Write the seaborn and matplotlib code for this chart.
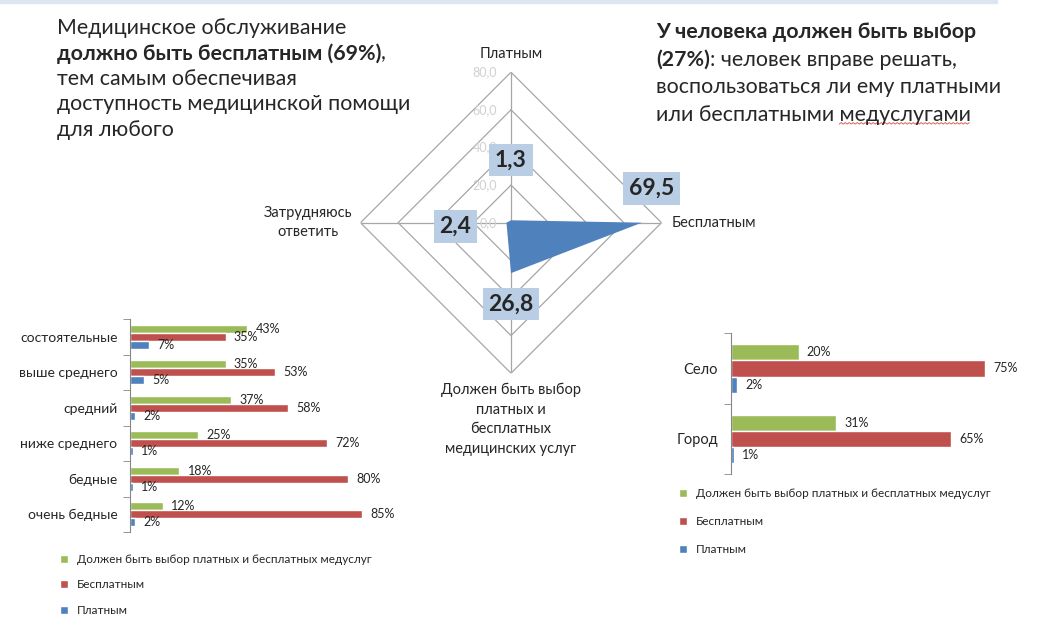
import matplotlib
matplotlib.use("Agg")
import numpy as np
import pandas as pd
import matplotlib.pyplot as plt
import seaborn as sns
from matplotlib.patches import Rectangle
from matplotlib.lines import Line2D

# radar data
radar_axes = ["Платным", "Бесплатным", "Должен быть выбор\nплатных и\nбесплатных\nмедицинских услуг", "Затрудняюсь\nответить"]
radar_values = [1.3, 69.5, 26.8, 2.4]
radar_labels = ["1,3", "69,5", "26,8", "2,4"]
radar_ticks = [0, 20, 40, 60, 80]

# bar chart data
series = ["Должен быть выбор платных и бесплатных медуслуг", "Бесплатным", "Платным"]
colors = ["#9BBB59", "#C0504D", "#4F81BD"]

income_groups = ["состоятельные", "выше среднего", "средний", "ниже среднего", "бедные", "очень бедные"]
income_choice = [43, 35, 37, 25, 18, 12]
income_free = [35, 53, 58, 72, 80, 85]
income_paid = [7, 5, 2, 1, 1, 2]

place_groups = ["Село", "Город"]
place_choice = [20, 31]
place_free = [75, 65]
place_paid = [2, 1]

sns.set_style("white")
plt.rcParams["font.family"] = ["Lato", "DejaVu Sans"]

W, H = 1044, 640
fig = plt.figure(figsize=(W / 100, H / 100), dpi=100)
renderer = fig.canvas.get_renderer()

# thin band on top of the slide
fig.patches.append(Rectangle((0, 1 - 3 / H), 997 / W, 3 / H, transform=fig.transFigure,
                             color="#DCE6F2", zorder=0))


def px(x, y):
    return x / W, 1 - y / H


def draw_line(x, y, parts, size):
    # parts: list of (text, weight); pieces are placed one after another
    texts = []
    for txt, weight in parts:
        t = fig.text(*px(x, y), txt, fontsize=size, fontweight=weight, ha="left", va="center")
        x += t.get_window_extent(renderer).width
        texts.append(t)
    return texts


left_text = [
    [("Медицинское обслуживание", "normal")],
    [("должно быть бесплатным (69%)", "bold"), (",", "normal")],
    [("тем самым обеспечивая", "normal")],
    [("доступность медицинской помощи", "normal")],
    [("для любого", "normal")],
]
for i, parts in enumerate(left_text):
    draw_line(57, 28 + i * 25.5, parts, 15.4)

right_text = [
    [("У человека должен быть выбор", "bold")],
    [("(27%)", "bold"), (": человек вправе решать,", "normal")],
    [("воспользоваться ли ему платными", "normal")],
    [("или бесплатными", "normal"), (" медуслугами", "normal")],
]
for i, parts in enumerate(right_text):
    last = draw_line(656, 32 + i * 27.7, parts, 15.4)

# red spell-check squiggle under the last word
bb = last[-1].get_window_extent(renderer)
xs = np.arange(bb.x0 + 5, bb.x1, 2.0)
ys = bb.y0 + 1 + np.where(np.arange(len(xs)) % 2 == 0, 0, 1.5)
fig.add_artist(Line2D(xs / W, ys / H, color="#E06060", lw=0.7, transform=fig.transFigure))

# ---- radar ----
cx, cy, rad = 511, 222.7, 150.5
axr = fig.add_axes([(cx - rad) / W, 1 - (cy + rad) / H, 2 * rad / W, 2 * rad / H], projection="polar")
axr.set_theta_offset(np.pi / 2)
axr.set_theta_direction(-1)
axr.set_ylim(0, 80)
axr.set_axis_off()

angles = np.linspace(0, 2 * np.pi, len(radar_axes), endpoint=False)
closed = np.append(angles, angles[0])
grid_col = "#A6A6A6"
for r in radar_ticks[1:]:
    axr.plot(closed, [r] * len(closed), color=grid_col, lw=0.9, zorder=1)
for a in angles:
    axr.plot([a, a], [0, 80], color=grid_col, lw=0.9, zorder=1)

vals = np.append(radar_values, radar_values[0])
axr.fill(closed, vals, color="#4F81BD", zorder=2, lw=0)

for r in radar_ticks:
    axr.annotate(f"{r},0", (0, r), xytext=(-14, 0), textcoords="offset pixels",
                 ha="right", va="center", fontsize=9, color="#D0D0D0", zorder=3)

label_offsets = [(0, 60), (10, 34), (0, -31), (-51, -4)]
for a, v, lab, off in zip(angles, radar_values, radar_labels, label_offsets):
    axr.annotate(lab, (a, v), xytext=off, textcoords="offset pixels", ha="center", va="center",
                 fontsize=16.5, fontweight="bold", zorder=4,
                 bbox=dict(boxstyle="square,pad=0.25", fc="#B9CDE5", ec="none"))

cat_pos = [((0, 18), "center", "center"), ((10, 0), "left", "center"),
           ((0, -10), "center", "top"), ((-8, 0), "right", "center")]
for a, name, (off, ha, va) in zip(angles, radar_axes, cat_pos):
    axr.annotate(name, (a, 80), xytext=off, textcoords="offset pixels", ha=ha, va=va,
                 multialignment="center", fontsize=10.5, linespacing=1.5, annotation_clip=False)


# ---- bar charts ----
def bar_chart(rect, groups, choice, free, paid, legend_xy, legend_gap, label_size):
    df = pd.DataFrame({
        "group": groups * 3,
        "series": [series[0]] * len(groups) + [series[1]] * len(groups) + [series[2]] * len(groups),
        "value": choice + free + paid,
    })
    ax = fig.add_axes(rect)
    sns.barplot(data=df, y="group", x="value", hue="series", hue_order=series, palette=colors,
                orient="h", width=0.69, saturation=1, errorbar=None, ax=ax)
    for cont in ax.containers:
        ax.bar_label(cont, labels=[f"{int(b.get_width())}%" for b in cont], padding=6, fontsize=9)
    n = len(groups)
    ax.set_xlim(0, 100)
    ax.set_ylim(n - 0.5, -0.5)
    ax.xaxis.set_visible(False)
    for s in ["top", "right", "bottom"]:
        ax.spines[s].set_visible(False)
    ax.spines["left"].set_color("#868686")
    ax.set_yticks(np.arange(-0.5, n, 1.0), minor=True)
    ax.tick_params(axis="y", which="minor", length=5, color="#868686", left=True)
    ax.tick_params(axis="y", which="major", length=0, pad=9, labelsize=label_size)
    ax.set_ylabel("")
    ax.patch.set_alpha(0)
    handles, labels = ax.get_legend_handles_labels()
    ax.legend(handles, labels, loc="upper left", bbox_to_anchor=px(*legend_xy), bbox_transform=fig.transFigure,
              frameon=False, fontsize=8.5, handlelength=0.7, handleheight=0.7, handletextpad=0.7,
              labelspacing=legend_gap, borderaxespad=0, borderpad=0)
    return ax


ax1 = bar_chart([130 / W, 1 - 532 / H, 273 / W, 213 / H], income_groups, income_choice, income_free,
                income_paid, (60, 554), 1.22, 10)
ax2 = bar_chart([730.7 / W, 1 - 474 / H, 339 / W, 140.7 / H], place_groups, place_choice, place_free,
                place_paid, (679, 488), 1.45, 10.5)

fig.savefig("out.png", dpi=100)
